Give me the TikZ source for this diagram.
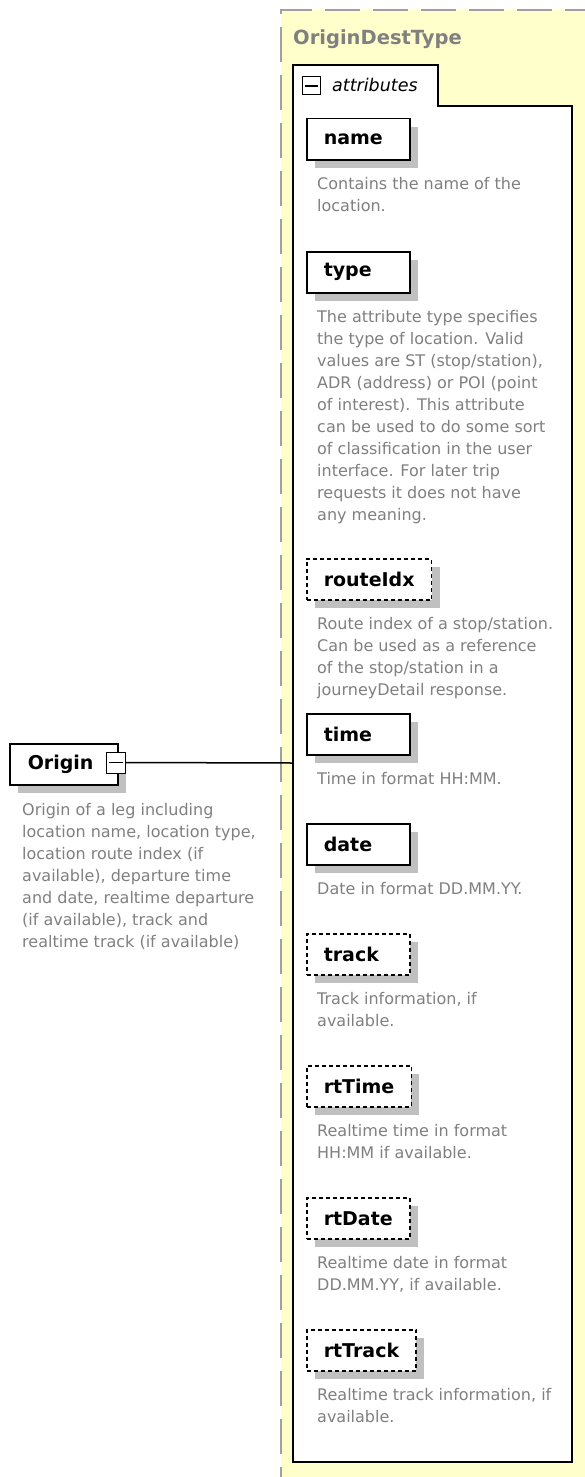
\documentclass[tikz,border=0pt]{standalone}
\usepackage{fontspec}
\setmainfont{DejaVu Sans}
\usetikzlibrary{positioning, shadows}
\definecolor{typefill}{RGB}{255,255,204}
\definecolor{framegrey}{RGB}{160,160,160}
\definecolor{shadowgrey}{RGB}{192,192,192}
\definecolor{descgrey}{RGB}{128,128,128}
\newcommand\descfont{\fontsize{16}{22}\selectfont}
\newcommand\elemfont{\fontsize{19}{22}\selectfont\bfseries}
\newcommand\elemlabel[2][69pt]{\setbox0\hbox{#2}\ifdim\wd0<#1\makebox[#1][l]{#2}\else\box0\fi}
\tikzset{
  elem/.style={draw, line width=1.5pt, fill=white, font=\elemfont, anchor=north west,
    minimum height=41pt, inner xsep=17pt,
    drop shadow={shadow xshift=8pt, shadow yshift=-8pt, fill=shadowgrey, opacity=1}},
  optelem/.style={elem, dash pattern=on 4pt off 3pt},
  descr/.style={font=\descfont, text=descgrey, align=left, inner sep=0pt},
  togglebox/.style={draw, fill=white, line width=1pt, inner sep=0pt}
}

\begin{document}
\begin{tikzpicture}[x=1pt, y=-1pt]
   \useasboundingbox (0,0) rectangle (584,1477);
   \fill[typefill] (281,10) rectangle (600,1490);
   \draw[framegrey, line width=1.7pt, dash pattern=on 35pt off 13pt] (600,10) -- (281,10) -- (281,1490);
   \node[font=\fontsize{19.5}{22}\selectfont\bfseries, text=descgrey, anchor=base west, inner sep=0pt] (typename) at (293,45) {OriginDestType};

   \draw[line width=1.5pt, fill=white] (293,1462) -- (293,65) -- (438,65) -- (438,106) -- (572,106) -- (572,1462) -- cycle;
   \coordinate (attrleft) at (293,763);
   \node[togglebox, minimum width=18pt, minimum height=18pt] (attrtoggle) at (311,86) {};
   \draw[line width=1.3pt] ([xshift=3pt]attrtoggle.west) -- ([xshift=-3pt]attrtoggle.east);
   \node[font=\fontsize{17.5}{20}\selectfont\itshape, anchor=base west, inner sep=0pt] (attrlabel) at (332,92) {attributes};

   \node[elem] (name) at (306,118) {\elemlabel{name}};
   \node[descr, below right=17pt and 11pt of name.south west] (namedesc) {Contains the name of the\\location.};

   \node[elem] (type) at (306,251) {\elemlabel{type}};
   \node[descr, below right=17pt and 11pt of type.south west] (typedesc) {The attribute type specifies\\the type of location. Valid\\values are ST (stop/station),\\ADR (address) or POI (point\\of interest). This attribute\\can be used to do some sort\\of classification in the user\\interface. For later trip\\requests it does not have\\any meaning.};

   \node[optelem] (routeIdx) at (306,558) {\elemlabel{routeIdx}};
   \node[descr, below right=17pt and 11pt of routeIdx.south west] (routeIdxdesc) {Route index of a stop/station.\\Can be used as a reference\\of the stop/station in a\\journeyDetail response.};

   \node[elem] (time) at (306,713) {\elemlabel{time}};
   \node[descr, below right=17pt and 11pt of time.south west] (timedesc) {Time in format HH:MM.};

   \node[elem] (date) at (306,823) {\elemlabel{date}};
   \node[descr, below right=17pt and 11pt of date.south west] (datedesc) {Date in format DD.MM.YY.};

   \node[optelem] (track) at (306,933) {\elemlabel{track}};
   \node[descr, below right=17pt and 11pt of track.south west] (trackdesc) {Track information, if\\available.};

   \node[optelem] (rtTime) at (306,1065) {\elemlabel{rtTime}};
   \node[descr, below right=17pt and 11pt of rtTime.south west] (rtTimedesc) {Realtime time in format\\HH:MM if available.};

   \node[optelem] (rtDate) at (306,1197) {\elemlabel{rtDate}};
   \node[descr, below right=17pt and 11pt of rtDate.south west] (rtDatedesc) {Realtime date in format\\DD.MM.YY, if available.};

   \node[optelem] (rtTrack) at (306,1329) {\elemlabel{rtTrack}};
   \node[descr, below right=17pt and 11pt of rtTrack.south west] (rtTrackdesc) {Realtime track information, if\\available.};

   \node[elem, inner xsep=18pt] (origin) at (9,743) {\elemlabel[72pt]{Origin}};
   \node[togglebox, minimum width=19pt, minimum height=21pt] (origintoggle) at (115.5,762.5) {};
   \draw[line width=1.3pt] ([xshift=3pt]origintoggle.west) -- ([xshift=-3pt]origintoggle.east);
   \node[descr, below right=18pt and 13pt of origin.south west] (origindesc) {Origin of a leg including\\location name, location type,\\location route index (if\\available), departure time\\and date, realtime departure\\(if available), track and\\realtime track (if available)};

   \draw[line width=1.5pt] (origintoggle.east) -- (attrleft);
\end{tikzpicture}
\end{document}
